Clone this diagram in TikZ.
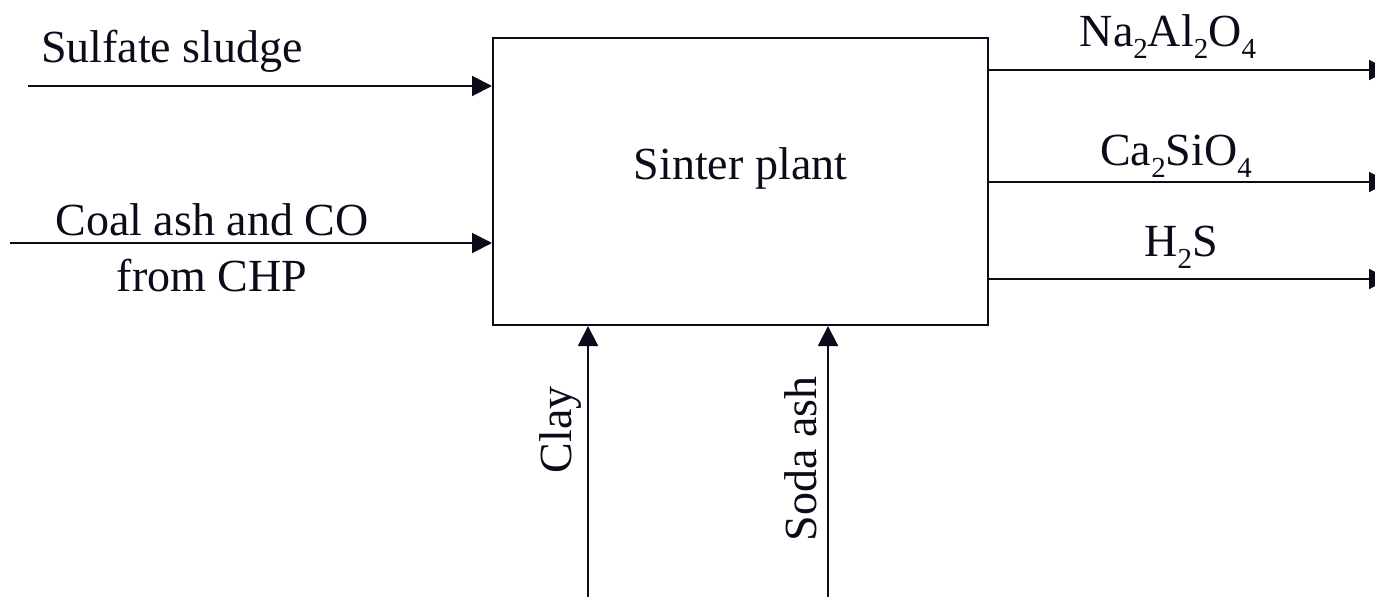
\documentclass[tikz,border=0pt]{standalone}
\usepackage{fontspec}
\setmainfont{Liberation Serif}
\usetikzlibrary{arrows.meta}
\definecolor{ink}{HTML}{0B0B1A}
\newcommand{\chemsub}[1]{\raisebox{-12pt}{\fontsize{29}{30}\selectfont #1}}
\begin{document}
\begin{tikzpicture}[x=1pt,y=-1pt,
  flow/.style={draw=ink,line width=2pt,-{Triangle[length=20pt,width=20pt]}},
  lbl/.style={text=ink,inner sep=0pt,font=\fontsize{46}{56}\selectfont},
  plant/.style={draw=ink,line width=2pt}]
\useasboundingbox (0,0) rectangle (1375,597);
\node[plant,minimum width=495pt,minimum height=287pt,inner sep=0pt] (box) at (740.5,181.5) {};
\node[lbl] (title) at (740.5,168) {Sinter plant};
% inputs
\coordinate (s0) at (28,86);
\coordinate (c0) at (10,243);
\draw[flow] (s0) -- (s0 -| box.west);
\draw[flow] (c0) -- (c0 -| box.west);
\node[lbl,anchor=base] (sl) at (172,62) {Sulfate sludge};
\node[lbl,anchor=base] (cl1) at (212,235) {Coal ash and CO};
\node[lbl,anchor=base] (cl2) at (212,291) {from CHP};
% outputs
\coordinate (o1) at (1389,70);
\coordinate (o2) at (1389,182);
\coordinate (o3) at (1389,279);
\draw[flow] (o1 -| box.east) -- (o1);
\draw[flow] (o2 -| box.east) -- (o2);
\draw[flow] (o3 -| box.east) -- (o3);
\node[lbl,anchor=base] (n1) at (1168,46) {Na\chemsub{2}Al\chemsub{2}O\chemsub{4}};
\node[lbl,anchor=base] (n2) at (1176,165) {Ca\chemsub{2}SiO\chemsub{4}};
\node[lbl,anchor=base] (n3) at (1181,256) {H\chemsub{2}S};
% bottom inputs
\coordinate (b1) at (588,597);
\coordinate (b2) at (828,597);
\draw[flow] (b1) -- (b1 |- box.south);
\draw[flow] (b2) -- (b2 |- box.south);
\node[lbl,anchor=base,rotate=90] (clay) at (571,430) {Clay};
\node[lbl,anchor=base,rotate=90] (soda) at (816,459) {Soda ash};
\end{tikzpicture}
\end{document}
